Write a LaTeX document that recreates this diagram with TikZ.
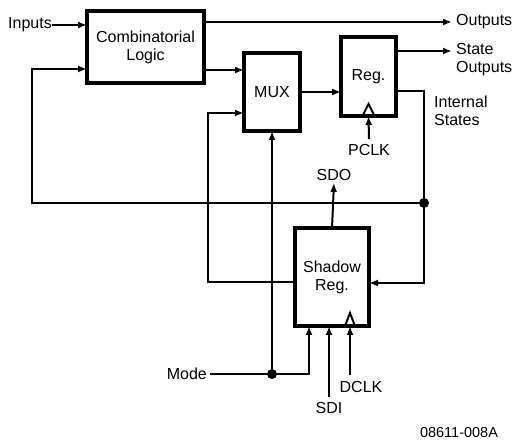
\documentclass[tikz,border=0pt]{standalone}
\usepackage{fontspec}
\setmainfont{Liberation Sans}
\usetikzlibrary{arrows.meta,positioning,calc}

\tikzset{
  block/.style={draw, line width=3.2pt, inner sep=0pt, outer sep=0pt, align=center},
  wire/.style={line width=2pt},
  arr/.style={wire, -{Latex[length=9pt,width=7pt]}},
  lbl/.style={inner sep=0pt, align=left},
  jdot/.style={circle, fill, inner sep=0pt, minimum size=10pt},
}

\begin{document}
\begin{tikzpicture}[x=1pt,y=1pt,font=\fontsize{16}{18}\selectfont]
    \useasboundingbox (0,0) rectangle (517,441);
    % Blocks
    \node[block, minimum width=117pt, minimum height=72pt] (cl) at (145.5,394) {Combinatorial\\Logic};
    \node[block, minimum width=56pt, minimum height=78pt] (mux) at (272,349) {MUX};
    \node[block, minimum width=55pt, minimum height=79pt] (reg) at (368.5,364.5) {Reg.};
    \node[block, minimum width=74pt, minimum height=98pt] (shadow) at (332,164) {Shadow\\Reg.};
    % Labels
    \node[lbl, anchor=east] (inputs) at (52,416) {Inputs};
    \node[lbl, anchor=west] (outputs) at (456,419) {Outputs};
    \node[lbl, anchor=west] (stout) at (456,381.5) {State\\Outputs};
    \node[lbl, anchor=west] (intst) at (434,330) {Internal\\States};
    \node[lbl] (pclk) at (369,291) {PCLK};
    \node[lbl] (sdo) at (334,266) {SDO};
    \node[lbl, anchor=east] (mode) at (207,67) {Mode};
    \node[lbl] (sdi) at (329,33) {SDI};
    \node[lbl] (dclk) at (361,54) {DCLK};
    \node[lbl, font=\fontsize{14.5}{16}\selectfont] (code) at (459,8) {08611-008A};
    % Coordinate
    \coordinate (fb) at (32,238);
    \coordinate (jn) at (424,238);
    \coordinate (md) at (mux.south |- mode.east);
    \coordinate (c2m) at ($(cl.east)+(0,-23)$);
    \coordinate (mx) at ($(mux.west)+(0,-21)$);
    \coordinate (so) at ($(reg.east)+(0,25.5)$);
    \coordinate (dclkin) at (350,66);
    % Linee
    \draw[arr] (inputs.east) -- (inputs.east -| cl.west);
    \draw[arr] (jn) -- (fb) |- ($(cl.west)+(0,-22)$); % feedback
    \draw[arr, shorten >=4pt] (cl.east |- outputs) -- (outputs.west);
    \draw[arr] (c2m) -- (c2m -| mux.west);
    \draw[arr] ($(shadow.west)+(0,-5)$) -| ([xshift=-36pt]mx) -- (mx);
    \draw[arr] (mux.east) -- (mux.east -| reg.west);
    \draw[arr, shorten >=4pt] (so) -- (so -| stout.west);
    \draw[wire] ($(reg.east)+(0,-14.5)$) -| (jn); % internal states
    \draw[arr] (jn) |- ($(shadow.east)+(0,-6)$);
    \draw[arr] (shadow.north) -- ([yshift=-2pt]sdo.south);
    \draw[arr] ([yshift=5pt]pclk.north) -- (reg.south);
    \draw[wire] ([xshift=3pt]mode.east) -- (md);
    \draw[arr] (md) -- (mux.south);
    \draw[arr] (md) -| ($(shadow.south)+(-23,0)$);
    \draw[arr] ([yshift=5pt]sdi.north) -- (sdi.north |- shadow.south);
    \draw[arr] (dclkin) -- (dclkin |- shadow.south);
    % Clock triangles
    \draw[wire] ($(reg.south)+(-6,0)$) -- ++(6,12) -- ++(6,-12);
    \draw[wire] ($(dclkin |- shadow.south)+(-5,0)$) -- ++(5,13) -- ++(5,-13);
    % Junctions
    \node[jdot] (jdot1) at (jn) {};
    \node[jdot] (jdot2) at (md) {};
\end{tikzpicture}
\end{document}
